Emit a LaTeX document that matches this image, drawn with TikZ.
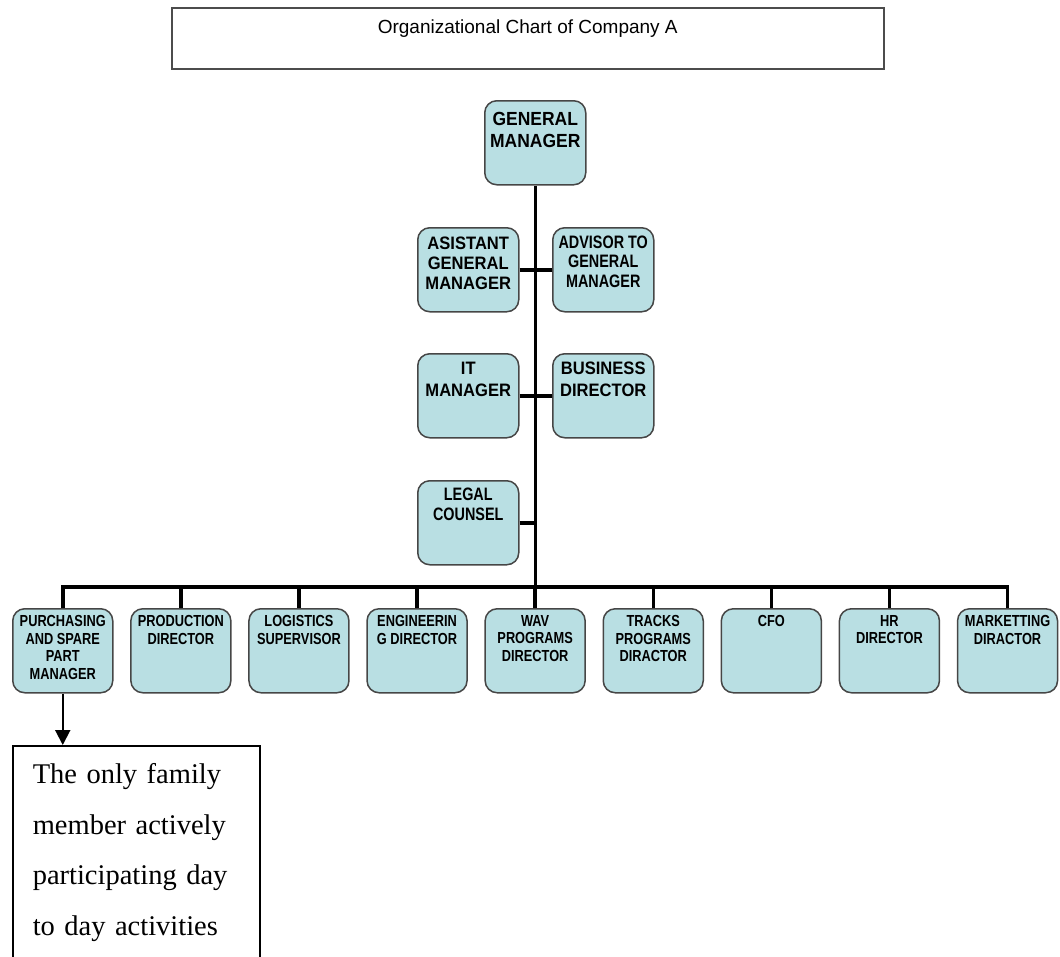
\documentclass[tikz,border=0pt]{standalone}
\usepackage{fontspec}
\setmainfont{Liberation Serif}
\setsansfont{Liberation Sans}
\newfontfamily\chartfont[FakeStretch=0.92]{Liberation Sans}
\newfontfamily\narrowfont[FakeStretch=0.8]{Liberation Sans}
\usetikzlibrary{arrows.meta}
\usetikzlibrary{positioning}
\definecolor{unitfill}{RGB}{185,223,227}
\definecolor{unitline}{RGB}{70,70,70}
\tikzset{unit/.style = {draw=unitline, fill=unitfill, line width=1.5pt,
                        rounded corners=12pt, minimum width=101pt,
                        minimum height=84pt, anchor=north west, inner sep=0pt},
         unittext/.style = {inner sep=0pt, align=center,
                            font=\chartfont\bfseries\fontsize{18}{20}\selectfont},
         narrowtext/.style = {unittext, font=\narrowfont\bfseries\fontsize{18}{19.5}\selectfont},
         rowtext/.style = {unittext, font=\narrowfont\bfseries\fontsize{16}{17.7}\selectfont},
         link/.style = {line width=3.5pt},
         pointer/.style = {line width=2pt, -{Triangle[width=15pt,length=15pt]}},
         titlebox/.style = {draw=black!70, line width=1.5pt, minimum width=712pt,
                            minimum height=61pt, anchor=north west, inner sep=0pt},
         notebox/.style = {draw, line width=1.5pt, anchor=north west, minimum width=247pt,
                           minimum height=214pt, text width=207pt, inner xsep=20pt,
                           align=left, font=\rmfamily\fontsize{28.5}{50.5}\selectfont}}

\begin{document}
\begin{tikzpicture}[x=1pt, y=-1pt]
    \useasboundingbox (0, 0) rectangle (1060, 956);

    % title
    \node [titlebox] (ttl) at (171, 7) {};
    \node [inner sep=0pt, font=\sffamily\fontsize{19}{22}\selectfont, below=13pt of ttl.north] (ttl-t) {Organizational Chart of Company A};

    % top of the chart
    \node [unit] (gm) at (484, 100) {};
    \node [unittext, font=\chartfont\bfseries\fontsize{19}{22}\selectfont, below=12pt of gm.north] (gm-t) {GENERAL\\MANAGER};
    \node [unit] (asg) at (417, 227) {};
    \node [unittext, below=10pt of asg.north] (asg-t) {ASISTANT\\GENERAL\\MANAGER};
    \node [unit] (adv) at (552, 227) {};
    \node [narrowtext, below=8.5pt of adv.north] (adv-t) {ADVISOR TO\\GENERAL\\MANAGER};
    \node [unit] (itm) at (417, 353) {};
    \node [unittext, font=\chartfont\bfseries\fontsize{18}{22}\selectfont, below=9pt of itm.north] (itm-t) {IT\\MANAGER};
    \node [unit] (bsd) at (552, 353) {};
    \node [unittext, font=\chartfont\bfseries\fontsize{18}{22}\selectfont, below=9pt of bsd.north] (bsd-t) {BUSINESS\\DIRECTOR};
    \node [unit] (lgl) at (417, 480) {};
    \node [narrowtext, font=\narrowfont\bfseries\fontsize{18}{20}\selectfont, below=8pt of lgl.north] (lgl-t) {LEGAL\\COUNSEL};

    % directors row
    \node [unit, minimum width=100pt] (pur) at (12, 608) {};
    \node [rowtext, below=7pt of pur.north] (pur-t) {PURCHASING\\AND SPARE\\PART\\MANAGER};
    \node [unit, minimum width=100pt] (prd) at (130.1, 608) {};
    \node [rowtext, below=7pt of prd.north] (prd-t) {PRODUCTION\\DIRECTOR};
    \node [unit, minimum width=100pt] (lgs) at (248.2, 608) {};
    \node [rowtext, below=7pt of lgs.north] (lgs-t) {LOGISTICS\\SUPERVISOR};
    \node [unit, minimum width=100pt] (eng) at (366.3, 608) {};
    \node [rowtext, below=7pt of eng.north] (eng-t) {ENGINEERIN\\G DIRECTOR};
    \node [unit, minimum width=100pt] (wav) at (484.4, 608) {};
    \node [rowtext, below=7pt of wav.north] (wav-t) {WAV\\PROGRAMS\\DIRECTOR};
    \node [unit, minimum width=100pt] (trk) at (602.5, 608) {};
    \node [rowtext, below=7pt of trk.north] (trk-t) {TRACKS\\PROGRAMS\\DIRACTOR};
    \node [unit, minimum width=100pt] (cfo) at (720.6, 608) {};
    \node [rowtext, below=7pt of cfo.north] (cfo-t) {CFO};
    \node [unit, minimum width=100pt] (hrd) at (838.7, 608) {};
    \node [rowtext, below=7pt of hrd.north] (hrd-t) {HR\\DIRECTOR};
    \node [unit, minimum width=100pt] (mkt) at (956.8, 608) {};
    \node [rowtext, below=7pt of mkt.north] (mkt-t) {MARKETTING\\DIRACTOR};

    % note under purchasing
    \node [notebox] (note) at (12, 745) {The only family\\member actively\\participating day\\to day activities};

    % connectors
    \coordinate (busy) at (0, 587);
    \draw [link] (gm.south) -- (gm.south |- busy);
    \draw [link] (asg.east) -- (asg.east -| gm.south);
    \draw [link] (adv.west) -- (adv.west -| gm.south);
    \draw [link] (itm.east) -- (itm.east -| gm.south);
    \draw [link] (bsd.west) -- (bsd.west -| gm.south);
    \draw [link] (lgl.east) -- (lgl.east -| gm.south);
    \draw [link] (pur.north) |- (mkt.north |- busy) -- (mkt.north);
    \draw [link] (prd.north) -- (prd.north |- busy);
    \draw [link] (lgs.north) -- (lgs.north |- busy);
    \draw [link] (eng.north) -- (eng.north |- busy);
    \draw [link] (wav.north) -- (wav.north |- busy);
    \draw [link] (trk.north) -- (trk.north |- busy);
    \draw [link] (cfo.north) -- (cfo.north |- busy);
    \draw [link] (hrd.north) -- (hrd.north |- busy);
    \draw [pointer] (pur.south) -- (pur.south |- note.north);
\end{tikzpicture}
\end{document}
